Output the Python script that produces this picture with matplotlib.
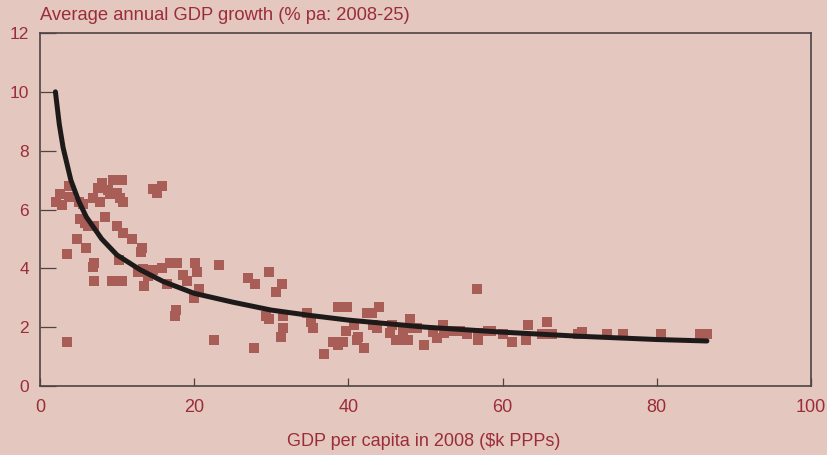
import numpy as np
import matplotlib
matplotlib.use('Agg')
import matplotlib.pyplot as plt

# scatter: GDP per capita 2008 ($k PPP) vs average annual growth 2008-25 (% pa)
gdp = [2.1, 2.6, 2.9, 3.8, 3.8, 3.5, 3.5, 5.1, 5.6, 4.8, 5.2, 5.8, 6.2, 7.0, 6.0,
       6.9, 7.5, 8.0, 8.8, 7.8, 9.1, 9.5, 10.0, 10.4, 10.6, 10.8, 8.4, 10.0, 10.8,
       11.9, 7.0, 6.9, 10.2, 7.0, 9.3, 10.6, 12.7, 13.4, 13.2, 13.1, 14.0, 13.5,
       14.7, 15.2, 15.8, 14.7, 15.8, 16.9, 17.8, 16.5, 18.5, 19.1, 20.1, 20.4,
       20.0, 20.6, 17.6, 17.5, 22.6, 23.2, 27.0, 27.9, 29.7, 30.6, 31.4, 27.8,
       29.3, 29.7, 31.5, 31.5, 31.3, 34.6, 35.1, 35.4, 36.8, 38.0, 38.7, 39.3,
       38.7, 39.8, 39.7, 40.7, 41.2, 41.1, 42.0, 42.4, 43.1, 44.0, 43.2, 43.7,
       45.7, 45.4, 46.2, 47.7, 47.1, 48.0, 48.0, 48.9, 49.8, 47.3, 51.0, 51.5,
       52.3, 52.4, 53.6, 54.5, 55.4, 56.8, 56.8, 56.7, 58.1, 58.5, 60.1, 61.2,
       63.0, 63.3, 65.1, 65.9, 66.4, 65.8, 69.8, 70.3, 73.5, 75.6, 80.5, 85.6,
       86.5]
growth = [6.25, 6.53, 6.15, 6.8, 6.42, 4.49, 1.5, 6.25, 6.19, 5.0, 5.68, 5.54,
          5.44, 5.44, 4.69, 6.39, 6.73, 6.9, 6.66, 6.25, 6.53, 7.0, 6.56, 6.39,
          7.0, 6.25, 5.74, 5.44, 5.2, 5.0, 4.18, 4.04, 4.28, 3.57, 3.57, 3.57,
          3.88, 3.98, 4.69, 4.55, 3.74, 3.4, 6.7, 6.56, 6.8, 3.94, 4.01, 4.18,
          4.18, 3.47, 3.77, 3.57, 4.18, 3.88, 3.0, 3.3, 2.58, 2.38, 1.56, 4.11,
          3.67, 3.47, 3.88, 3.2, 3.47, 1.29, 2.38, 2.28, 2.38, 1.97, 1.67, 2.48,
          2.18, 1.97, 1.09, 1.5, 1.39, 1.5, 2.69, 2.69, 1.87, 2.07, 1.67, 1.56,
          1.29, 2.48, 2.48, 2.69, 2.07, 1.97, 2.07, 1.8, 1.56, 1.56, 1.9, 2.28,
          1.97, 1.97, 1.39, 1.56, 1.84, 1.63, 2.07, 1.8, 1.87, 1.87, 1.77, 1.8,
          1.56, 3.3, 1.87, 1.87, 1.77, 1.5, 1.56, 2.07, 1.77, 1.77, 1.77, 2.18,
          1.77, 1.84, 1.77, 1.77, 1.77, 1.77, 1.77]

# trend line
trend_x = [2, 2.5, 3, 4, 5, 6, 8, 10, 13, 16, 20, 25, 30, 35, 40, 50, 60, 70, 80, 86.5]
trend_y = [10.0, 8.9, 8.1, 7.0, 6.3, 5.75, 5.0, 4.45, 3.95, 3.55, 3.15, 2.85,
           2.58, 2.4, 2.24, 2.0, 1.83, 1.69, 1.58, 1.53]

bg = '#e4c7bf'
txt = '#9b2d3a'
dot = '#a85d57'
edge = '#4e4444'

fig = plt.figure(figsize=(8.27, 4.55), dpi=100, facecolor=bg)
ax = fig.add_axes([40/827, 1-386/455, (811-40)/827, (386-33)/455])
ax.set_facecolor(bg)

ax.scatter(gdp, growth, marker='s', s=46, color=dot, linewidths=0, zorder=2)
ax.plot(trend_x, trend_y, color='#1e1a1a', lw=3.6, solid_capstyle='round', zorder=3)

ax.set_xlim(0, 100)
ax.set_ylim(0, 12)
ax.set_xticks(np.arange(0, 101, 20))
ax.set_yticks(np.arange(0, 13, 2))

narrow = ['Liberation Sans Narrow', 'Liberation Sans', 'DejaVu Sans']
ax.tick_params(axis='y', direction='in', length=11.5, width=0.9, color=edge,
               labelcolor=txt, labelsize=12.5, pad=8)
ax.tick_params(axis='x', direction='in', length=6, width=0.9, color=edge,
               labelcolor=txt, labelsize=13, pad=9)
for lab in ax.get_yticklabels():
    lab.set_family('Liberation Sans')
for lab in ax.get_xticklabels():
    lab.set_family(narrow)

for sp in ax.spines.values():
    sp.set_color(edge)
    sp.set_linewidth(1.2)

fig.text(40/827, 1-16/455, 'Average annual GDP growth (% pa: 2008-25)',
         color=txt, fontsize=13.2, family='Liberation Sans', ha='left', va='center')
fig.text(424/827, 1-442/455, 'GDP per capita in 2008 ($k PPPs)',
         color=txt, fontsize=13, family=narrow, ha='center', va='center')

fig.savefig('out.png', dpi=100, facecolor=bg)
